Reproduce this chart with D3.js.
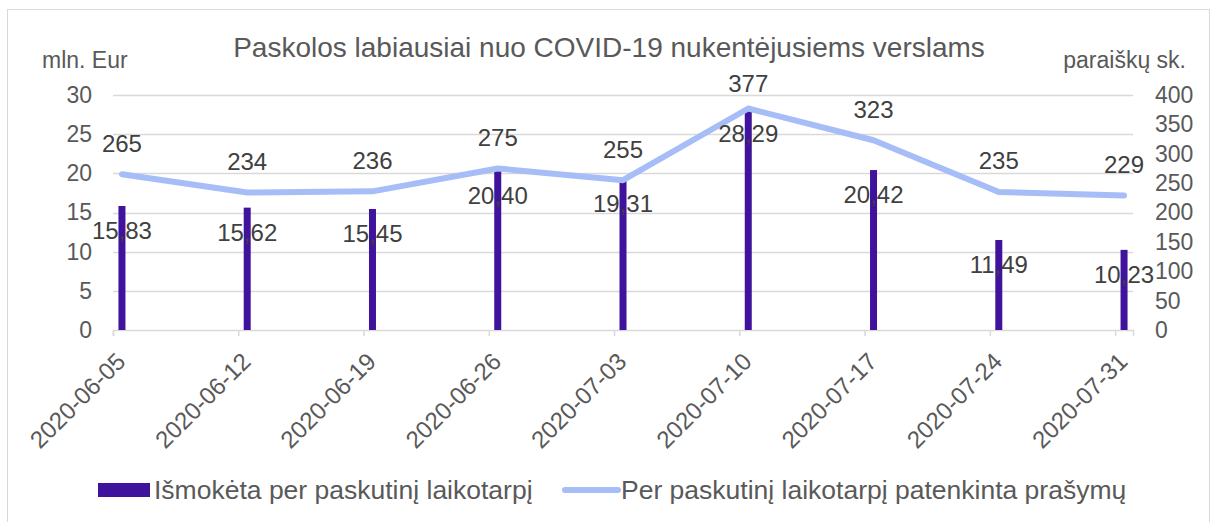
<!DOCTYPE html>
<html>
<head>
<meta charset="utf-8">
<script src="https://cdn.jsdelivr.net/npm/d3@7"></script>
<style>
    body { margin: 0; background: #fff; }
    svg text { font-family: "Liberation Sans", Arial, sans-serif; }
</style>
</head>
<body>
<div id="chart"></div>
<script>
// Data
const dates = ["2020-06-05", "2020-06-12", "2020-06-19", "2020-06-26", "2020-07-03",
    "2020-07-10", "2020-07-17", "2020-07-24", "2020-07-31"];
const paid = [15.83, 15.62, 15.45, 20.40, 19.31, 28.29, 20.42, 11.49, 10.23];
const requests = [265, 234, 236, 275, 255, 377, 323, 235, 229];
const leftTicks = [0, 5, 10, 15, 20, 25, 30];
const rightTicks = [0, 50, 100, 150, 200, 250, 300, 350, 400];
const seriesNames = ["Išmokėta per paskutinį laikotarpį", "Per paskutinį laikotarpį patenkinta prašymų"];

const width = 1212;
const height = 522;
const barColor = "#3f139b";
const lineColor = "#a6bdf7";
const axisText = "#595959";
const labelText = "#404040";
const gridColor = "#d9d9d9";

const svg = d3.select("#chart")
    .append("svg")
    .attr("width", width)
    .attr("height", height);

// chart border
svg.append("rect")
    .attr("x", 7.5).attr("y", 9.5)
    .attr("width", 1202).attr("height", 530)
    .attr("fill", "none")
    .attr("stroke", gridColor);

const parse = d3.utcParse("%Y-%m-%d");
const day = 86400000;
const start = parse(dates[0]);
const end = new Date(parse(dates[dates.length - 1]).getTime() + day);

const x = d3.scaleUtc().domain([start, end]).range([113, 1133]);
const yLeft = d3.scaleLinear().domain([0, 30]).range([330, 95]);
const yRight = d3.scaleLinear().domain([0, 400]).range([330, 95]);

// point position: middle of the day
const px = d => x(new Date(parse(d).getTime() + day / 2));

// gridlines
svg.append("g")
    .selectAll("line")
    .data(leftTicks.slice(1))
    .enter()
    .append("line")
    .attr("x1", 113).attr("x2", 1133)
    .attr("y1", d => Math.round(yLeft(d)) + 0.5)
    .attr("y2", d => Math.round(yLeft(d)) + 0.5)
    .attr("stroke", gridColor)
    .attr("stroke-width", 1.5);

// x axis
const xAxis = d3.axisBottom(x)
    .tickValues(dates.map(parse))
    .tickSize(6)
    .tickFormat("");
const gx = svg.append("g")
    .attr("transform", "translate(0,330)")
    .call(xAxis);
gx.select(".domain").attr("stroke", gridColor).attr("stroke-width", 1.5);
gx.selectAll(".tick line").attr("stroke", gridColor).attr("stroke-width", 1.5);

svg.append("g")
    .selectAll("text")
    .data(dates)
    .enter()
    .append("text")
    .attr("transform", d => `translate(${px(d) - 1},${357}) rotate(-45)`)
    .attr("text-anchor", "end")
    .attr("dy", "0.35em")
    .attr("font-size", 24)
    .attr("fill", axisText)
    .text(d => d);

// left axis
const gl = svg.append("g")
    .attr("transform", "translate(92,0)")
    .call(d3.axisLeft(yLeft).tickValues(leftTicks).tickSize(0).tickPadding(0));
gl.select(".domain").remove();
gl.selectAll("text").attr("font-size", 23).attr("fill", axisText)
    .attr("font-family", "Liberation Sans, Arial, sans-serif");

// right axis
const gr = svg.append("g")
    .attr("transform", "translate(1155,0)")
    .call(d3.axisRight(yRight).tickValues(rightTicks).tickSize(0).tickPadding(0));
gr.select(".domain").remove();
gr.selectAll("text").attr("font-size", 23).attr("fill", axisText)
    .attr("font-family", "Liberation Sans, Arial, sans-serif");

// axis titles
svg.append("text")
    .attr("x", 42).attr("y", 68)
    .attr("font-size", 23)
    .attr("fill", axisText)
    .text("mln. Eur");
svg.append("text")
    .attr("x", 1186).attr("y", 68)
    .attr("text-anchor", "end")
    .attr("font-size", 23)
    .attr("fill", axisText)
    .text("paraiškų sk.");

// title
svg.append("text")
    .attr("x", 609).attr("y", 57)
    .attr("text-anchor", "middle")
    .attr("font-size", 28)
    .attr("fill", axisText)
    .text("Paskolos labiausiai nuo COVID-19 nukentėjusiems verslams");

// bars
const barW = 7;
svg.append("g")
    .selectAll("rect")
    .data(dates)
    .enter()
    .append("rect")
    .attr("x", d => px(d) - barW / 2)
    .attr("y", (d, i) => yLeft(paid[i]))
    .attr("width", barW)
    .attr("height", (d, i) => yLeft(0) - yLeft(paid[i]))
    .attr("fill", barColor);

// line
const line = d3.line()
    .x(d => px(d[0]))
    .y(d => yRight(d[1]));
svg.append("path")
    .datum(dates.map((d, i) => [d, requests[i]]))
    .attr("d", line)
    .attr("fill", "none")
    .attr("stroke", lineColor)
    .attr("stroke-width", 6)
    .attr("stroke-linecap", "round")
    .attr("stroke-linejoin", "round");

// bar labels
const fmt = d3.formatLocale({ decimal: ",", thousands: " ", grouping: [3], currency: ["", " €"] }).format(".2f");
svg.append("g")
    .selectAll("text")
    .data(dates)
    .enter()
    .append("text")
    .attr("x", d => px(d))
    .attr("y", (d, i) => yLeft(paid[i]) + 25)
    .attr("dy", "0.35em")
    .attr("text-anchor", "middle")
    .attr("font-size", 24)
    .attr("fill", labelText)
    .text((d, i) => fmt(paid[i]));

// line labels
svg.append("g")
    .selectAll("text")
    .data(dates)
    .enter()
    .append("text")
    .attr("x", d => px(d))
    .attr("y", (d, i) => Math.max(yRight(requests[i]) - 31, 84))
    .attr("dy", "0.35em")
    .attr("text-anchor", "middle")
    .attr("font-size", 24)
    .attr("fill", labelText)
    .text((d, i) => requests[i]);

// legend
const legend = svg.append("g");
legend.append("rect")
    .attr("x", 98).attr("y", 483)
    .attr("width", 52).attr("height", 14)
    .attr("fill", barColor);
legend.append("text")
    .attr("x", 154).attr("y", 490)
    .attr("dy", "0.35em")
    .attr("font-size", 26.5)
    .attr("fill", axisText)
    .text(seriesNames[0]);
legend.append("line")
    .attr("x1", 565).attr("x2", 618)
    .attr("y1", 490).attr("y2", 490)
    .attr("stroke", lineColor)
    .attr("stroke-width", 6)
    .attr("stroke-linecap", "round");
legend.append("text")
    .attr("x", 621).attr("y", 490)
    .attr("dy", "0.35em")
    .attr("font-size", 26.5)
    .attr("fill", axisText)
    .text(seriesNames[1]);
</script>
</body>
</html>
